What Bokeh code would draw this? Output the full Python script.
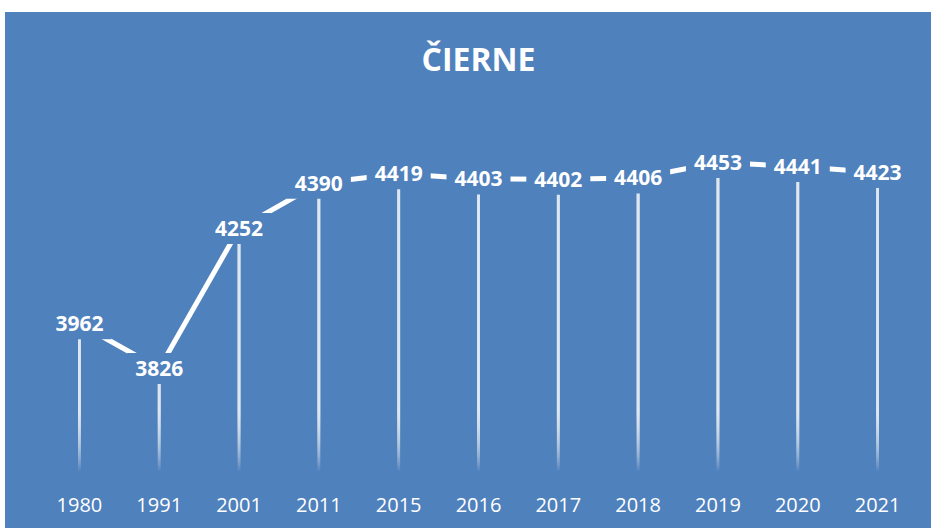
from bokeh.plotting import figure
from bokeh.models import Range1d, Spacer
from bokeh.layouts import column, row
from bokeh.core.properties import value
from bokeh.embed import file_html
from bokeh.resources import INLINE

# ---- data ----
years = ["1980", "1991", "2001", "2011", "2015", "2016", "2017", "2018", "2019", "2020", "2021"]
population = [3962, 3826, 4252, 4390, 4419, 4403, 4402, 4406, 4453, 4441, 4423]
labels = [str(v) for v in population]
title_text = "ČIERNE"

# ---- style ----
BLUE = "#4F81BD"
Y_MIN, Y_MAX = 3500, 4642
FADE_LO, FADE_HI = 3515, 3700
N_FADE = 24

p = figure(x_range=years, y_range=Range1d(Y_MIN, Y_MAX),
           width=926, height=516, output_backend="svg", toolbar_location=None,
           min_border_left=34, min_border_right=14, min_border_top=88, min_border_bottom=53)
p.styles = {"background-color": BLUE}
p.background_fill_alpha = 0
p.border_fill_alpha = 0
p.outline_line_color = None
p.xgrid.grid_line_color = None
p.ygrid.grid_line_color = None
p.yaxis.visible = False
p.xaxis.axis_line_color = None
p.xaxis.major_tick_line_color = None
p.xaxis.minor_tick_line_color = None
p.xaxis.major_label_text_color = "white"
p.xaxis.major_label_text_font = "Open Sans"
p.xaxis.major_label_text_font_size = "20px"
p.xaxis.major_label_standoff = 16

p.title.text = title_text
p.title.align = "center"
p.title.text_font = "Open Sans"
p.title.text_font_style = "bold"
p.title.text_font_size = "32px"
p.title.text_color = "white"
p.title.standoff = 41

# drop lines fading towards the axis: stacked translucent segments
a = 1 - (1 - 0.85) ** (1.0 / N_FADE)
sx, sy0, sy1 = [], [], []
for yr, v in zip(years, population):
    for k in range(N_FADE):
        bottom = FADE_LO + (FADE_HI - FADE_LO) * k / N_FADE
        sx.append(yr); sy0.append(bottom); sy1.append(v)
p.segment(x0=sx, y0=sy0, x1=sx, y1=sy1, line_color="white", line_alpha=a, line_width=3)

p.line(years, population, line_color="white", line_width=5)

p.text(x=years, y=population, text=labels, text_font=value("Open Sans"),
       text_font_style="bold", text_font_size="21px", text_color="white",
       text_align="center", text_baseline="middle",
       background_fill_color=BLUE, padding=8)

layout = row(Spacer(width=5, height=528), column(Spacer(height=12, width=926), p))
open("out.html", "w").write(file_html(layout, INLINE))
